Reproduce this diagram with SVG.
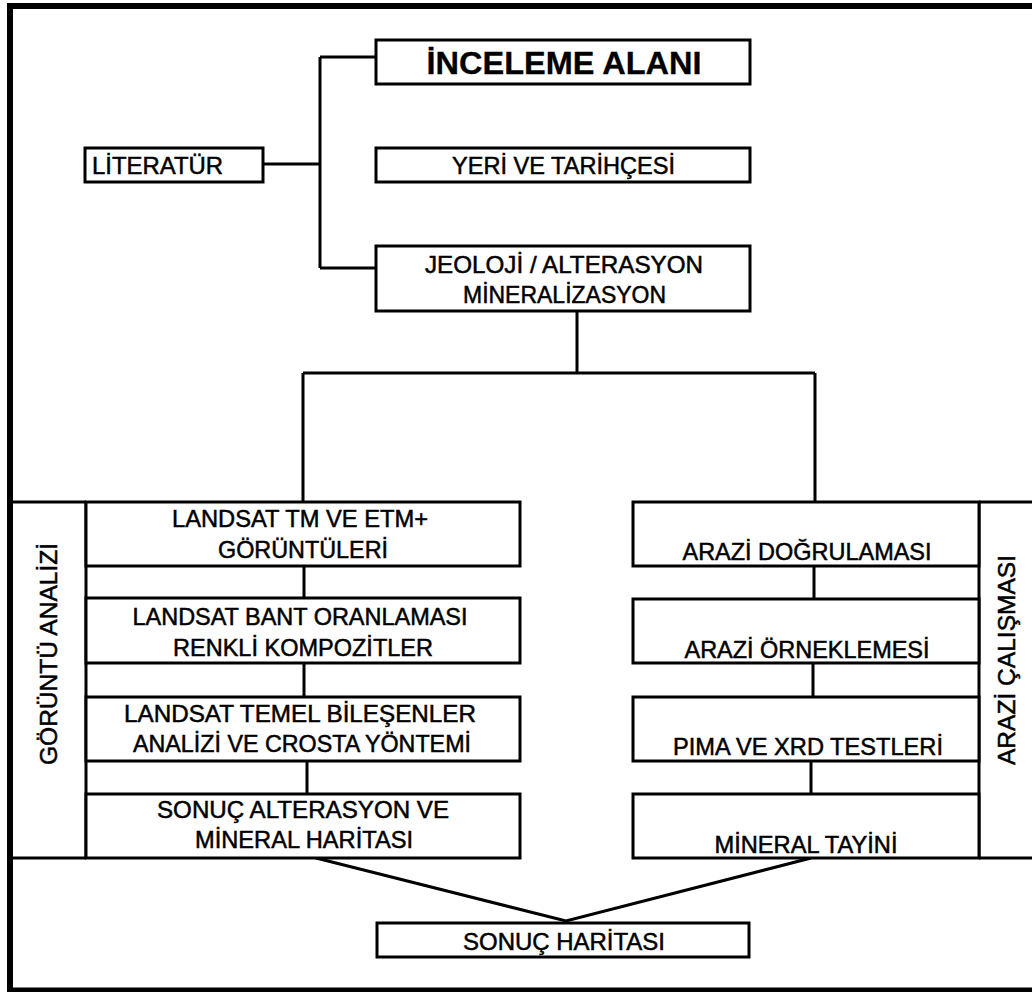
<svg xmlns="http://www.w3.org/2000/svg" width="1032" height="992" viewBox="0 0 1032 992">
<style>
.box{fill:#fff;stroke:#000;stroke-width:3}
.ln{fill:none;stroke:#000;stroke-width:3}
text{font-family:"Liberation Sans",Arial,sans-serif;font-weight:normal;font-size:24px;fill:#000;stroke:#000;stroke-width:0.5;text-anchor:middle}
.big{font-size:32px;font-weight:bold;stroke-width:0.3}
</style>
<rect x="0" y="0" width="1032" height="992" fill="#fff"/>
<rect x="10" y="6" width="1040" height="984.5" fill="none" stroke="#000" stroke-width="6"/>
<g id="connectors" class="ln">
<path d="M263,164 H320 M320,57 V268 M320,57 H376 M320,268 H376"/>
<path d="M577,311 V373 M303,373 H815 M303,373 V502 M815,373 V502"/>
<path d="M304,566 V598 M304,663 V697 M307,761 V794"/>
<path d="M814,566 V599 M813,663 V697 M811,761 V794"/>
<path d="M316,858 L566,921 L811,858"/>
</g>
<g id="panel-left">
<path class="ln" d="M13,502 H86 M13,858 H86 M86,502 V858"/>
<text transform="translate(57,654) rotate(-90)" textLength="222" lengthAdjust="spacingAndGlyphs">GÖRÜNTÜ ANALİZİ</text>
</g>
<g id="panel-right">
<path class="ln" d="M979,502 H1032 M979,858 H1032 M979,502 V858"/>
<text transform="translate(1015,660) rotate(-90)" textLength="210" lengthAdjust="spacingAndGlyphs">ARAZİ ÇALIŞMASI</text>
</g>
<g id="inceleme"><rect class="box" x="376" y="40" width="374" height="44"/><text class="big" x="564" y="74" textLength="275" lengthAdjust="spacingAndGlyphs">İNCELEME ALANI</text></g>
<g id="literatur"><rect class="box" x="85" y="148" width="178" height="34"/><text x="92" y="174" style="text-anchor:start" textLength="131" lengthAdjust="spacingAndGlyphs">LİTERATÜR</text></g>
<g id="yeri"><rect class="box" x="376" y="148" width="374" height="34"/><text x="563.5" y="174" textLength="223" lengthAdjust="spacingAndGlyphs">YERİ VE TARİHÇESİ</text></g>
<g id="jeoloji"><rect class="box" x="376" y="246" width="374" height="65"/><text x="564" y="273" textLength="278" lengthAdjust="spacingAndGlyphs">JEOLOJİ / ALTERASYON</text><text x="564.5" y="303" textLength="203" lengthAdjust="spacingAndGlyphs">MİNERALİZASYON</text></g>
<g id="landsat-tm"><rect class="box" x="86" y="502" width="434" height="64"/><text x="300" y="527" textLength="256" lengthAdjust="spacingAndGlyphs">LANDSAT TM VE ETM+</text><text x="303" y="558" textLength="170" lengthAdjust="spacingAndGlyphs">GÖRÜNTÜLERİ</text></g>
<g id="bant-oranlamasi"><rect class="box" x="86" y="598" width="434" height="65"/><text x="300" y="625" textLength="335" lengthAdjust="spacingAndGlyphs">LANDSAT BANT ORANLAMASI</text><text x="303" y="656" textLength="260" lengthAdjust="spacingAndGlyphs">RENKLİ KOMPOZİTLER</text></g>
<g id="temel-bilesenler"><rect class="box" x="86" y="697" width="434" height="64"/><text x="300" y="722" textLength="352" lengthAdjust="spacingAndGlyphs">LANDSAT TEMEL BİLEŞENLER</text><text x="302" y="752" textLength="338" lengthAdjust="spacingAndGlyphs">ANALİZİ VE CROSTA YÖNTEMİ</text></g>
<g id="sonuc-alterasyon"><rect class="box" x="86" y="794" width="434" height="64"/><text x="303" y="818" textLength="292" lengthAdjust="spacingAndGlyphs">SONUÇ ALTERASYON VE</text><text x="304" y="848" textLength="218" lengthAdjust="spacingAndGlyphs">MİNERAL HARİTASI</text></g>
<g id="arazi-dogrulamasi"><rect class="box" x="633" y="502" width="346" height="64"/><text x="807" y="560" textLength="249" lengthAdjust="spacingAndGlyphs">ARAZİ DOĞRULAMASI</text></g>
<g id="arazi-orneklemesi"><rect class="box" x="633" y="599" width="346" height="64"/><text x="807" y="658" textLength="245" lengthAdjust="spacingAndGlyphs">ARAZİ ÖRNEKLEMESİ</text></g>
<g id="pima-xrd"><rect class="box" x="633" y="697" width="346" height="64"/><text x="808" y="755" textLength="270" lengthAdjust="spacingAndGlyphs">PIMA VE XRD TESTLERİ</text></g>
<g id="mineral-tayini"><rect class="box" x="633" y="794" width="346" height="64"/><text x="806" y="853" textLength="183" lengthAdjust="spacingAndGlyphs">MİNERAL TAYİNİ</text></g>
<g id="sonuc-haritasi"><rect class="box" x="377" y="923" width="372" height="34"/><text x="564" y="950" textLength="202" lengthAdjust="spacingAndGlyphs">SONUÇ HARİTASI</text></g>
</svg>
